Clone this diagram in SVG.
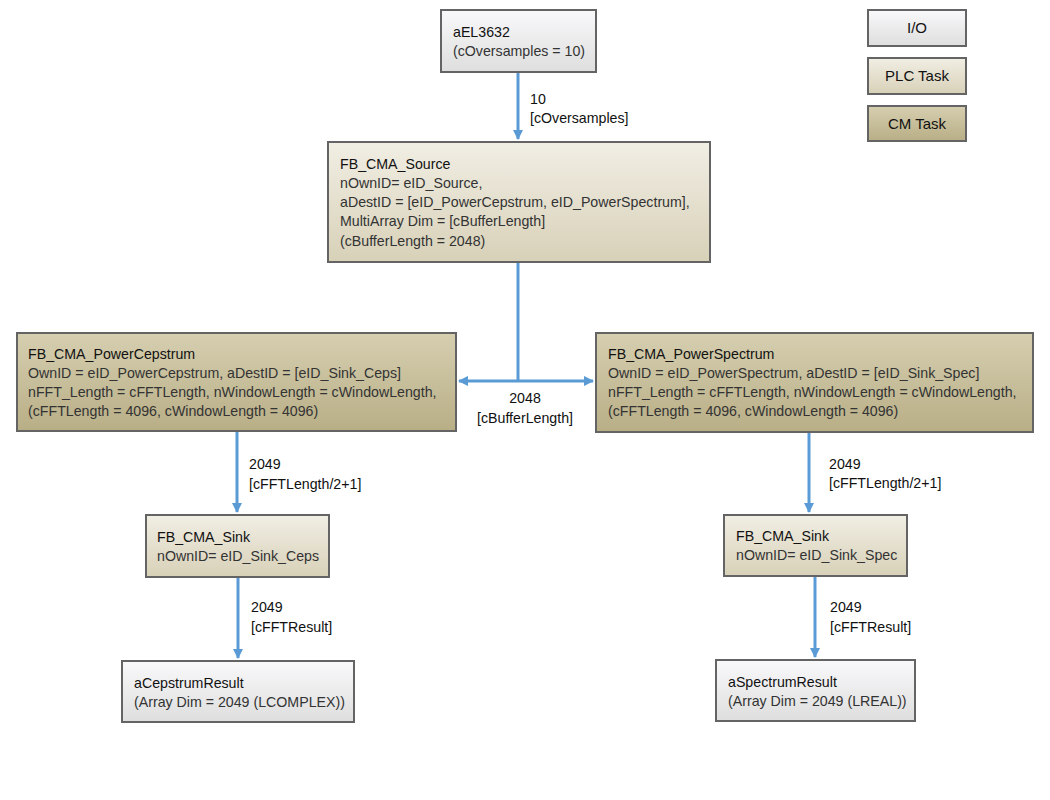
<svg xmlns="http://www.w3.org/2000/svg" width="1050" height="800" viewBox="0 0 1050 800">
<defs>
<linearGradient id="gIO" x1="0" y1="0" x2="0" y2="1"><stop offset="0" stop-color="#f9f9fb"/><stop offset="1" stop-color="#dedede"/></linearGradient>
<linearGradient id="gPLC" x1="0" y1="0" x2="0" y2="1"><stop offset="0" stop-color="#f1eee4"/><stop offset="1" stop-color="#d8d1b8"/></linearGradient>
<linearGradient id="gCM" x1="0" y1="0" x2="0" y2="1"><stop offset="0" stop-color="#d6cfb0"/><stop offset="1" stop-color="#b8ae86"/></linearGradient>
<marker id="ah" viewBox="0 0 10 10" refX="9" refY="5" markerWidth="3.5" markerHeight="3.5" orient="auto" markerUnits="strokeWidth"><path d="M0,0 L10,5 L0,10 z" fill="#5b9bd5"/></marker>
<style>
.box{stroke:#646464;stroke-width:2}
.io{fill:url(#gIO)}
.plc{fill:url(#gPLC)}
.cm{fill:url(#gCM)}
text{font-family:"Liberation Sans",Arial,sans-serif;font-size:14.2px;fill:#333}
.t{fill:#111}
.lg{fill:#111;text-anchor:middle;font-size:15px}
.lbl{fill:#111}
.c{stroke:#5b9bd5;stroke-width:3;fill:none}
</style>
</defs>
<g id="connectors">
<path class="c" d="M518,72 V139" marker-end="url(#ah)"/>
<path class="c" d="M518,262 V381"/>
<path class="c" d="M518,381 H459" marker-end="url(#ah)"/>
<path class="c" d="M518,381 H593" marker-end="url(#ah)"/>
<path class="c" d="M237,431 V512" marker-end="url(#ah)"/>
<path class="c" d="M238,577 V658" marker-end="url(#ah)"/>
<path class="c" d="M809,432 V512" marker-end="url(#ah)"/>
<path class="c" d="M815,576 V657" marker-end="url(#ah)"/>
<text class="lbl" x="530" y="104">10</text>
<text class="lbl" x="530" y="123">[cOversamples]</text>
<text class="lbl" x="525" y="403" text-anchor="middle">2048</text>
<text class="lbl" x="525" y="423" text-anchor="middle">[cBufferLength]</text>
<text class="lbl" x="249" y="469">2049</text>
<text class="lbl" x="249" y="489">[cFFTLength/2+1]</text>
<text class="lbl" x="251" y="612">2049</text>
<text class="lbl" x="251" y="632">[cFFTResult]</text>
<text class="lbl" x="829" y="469">2049</text>
<text class="lbl" x="829" y="488">[cFFTLength/2+1]</text>
<text class="lbl" x="830" y="612">2049</text>
<text class="lbl" x="830" y="632">[cFFTResult]</text>
</g>
<g id="legend-io"><rect class="box io" x="868" y="10" width="98" height="36"/><text class="lg" x="917" y="33">I/O</text></g>
<g id="legend-plc"><rect class="box plc" x="868" y="58" width="98" height="36"/><text class="lg" x="917" y="81">PLC Task</text></g>
<g id="legend-cm"><rect class="box cm" x="868" y="106" width="98" height="35"/><text class="lg" x="917" y="129">CM Task</text></g>
<g id="aEL3632"><rect class="box io" x="441" y="10" width="155" height="62"/>
<text class="t" x="453" y="37">aEL3632</text><text x="453" y="56">(cOversamples = 10)</text></g>
<g id="source"><rect class="box plc" x="328" y="142" width="382" height="120"/>
<text class="t" x="340" y="169">FB_CMA_Source</text>
<text x="340" y="188">nOwnID= eID_Source,</text>
<text x="340" y="207">aDestID = [eID_PowerCepstrum, eID_PowerSpectrum],</text>
<text x="340" y="226">MultiArray Dim = [cBufferLength]</text>
<text x="340" y="246">(cBufferLength = 2048)</text></g>
<g id="powercepstrum"><rect class="box cm" x="17" y="333" width="439" height="98"/>
<text class="t" x="28" y="359">FB_CMA_PowerCepstrum</text>
<text x="28" y="378">OwnID = eID_PowerCepstrum, aDestID = [eID_Sink_Ceps]</text>
<text x="28" y="397">nFFT_Length = cFFTLength, nWindowLength = cWindowLength,</text>
<text x="28" y="416">(cFFTLength = 4096, cWindowLength = 4096)</text></g>
<g id="powerspectrum"><rect class="box cm" x="596" y="333" width="437" height="99"/>
<text class="t" x="608" y="359">FB_CMA_PowerSpectrum</text>
<text x="608" y="378">OwnID = eID_PowerSpectrum, aDestID = [eID_Sink_Spec]</text>
<text x="608" y="397">nFFT_Length = cFFTLength, nWindowLength = cWindowLength,</text>
<text x="608" y="416">(cFFTLength = 4096, cWindowLength = 4096)</text></g>
<g id="sinkceps"><rect class="box plc" x="146" y="515" width="183" height="62"/>
<text class="t" x="157" y="542">FB_CMA_Sink</text>
<text x="157" y="561">nOwnID= eID_Sink_Ceps</text></g>
<g id="sinkspec"><rect class="box plc" x="724" y="515" width="183" height="61"/>
<text class="t" x="736" y="541">FB_CMA_Sink</text>
<text x="736" y="560">nOwnID= eID_Sink_Spec</text></g>
<g id="cepstrumresult"><rect class="box io" x="122" y="661" width="232" height="61"/>
<text class="t" x="134" y="688">aCepstrumResult</text>
<text x="134" y="707">(Array Dim = 2049 (LCOMPLEX))</text></g>
<g id="spectrumresult"><rect class="box io" x="716" y="660" width="199" height="61"/>
<text class="t" x="728" y="687">aSpectrumResult</text>
<text x="728" y="706">(Array Dim = 2049 (LREAL))</text></g>
</svg>
